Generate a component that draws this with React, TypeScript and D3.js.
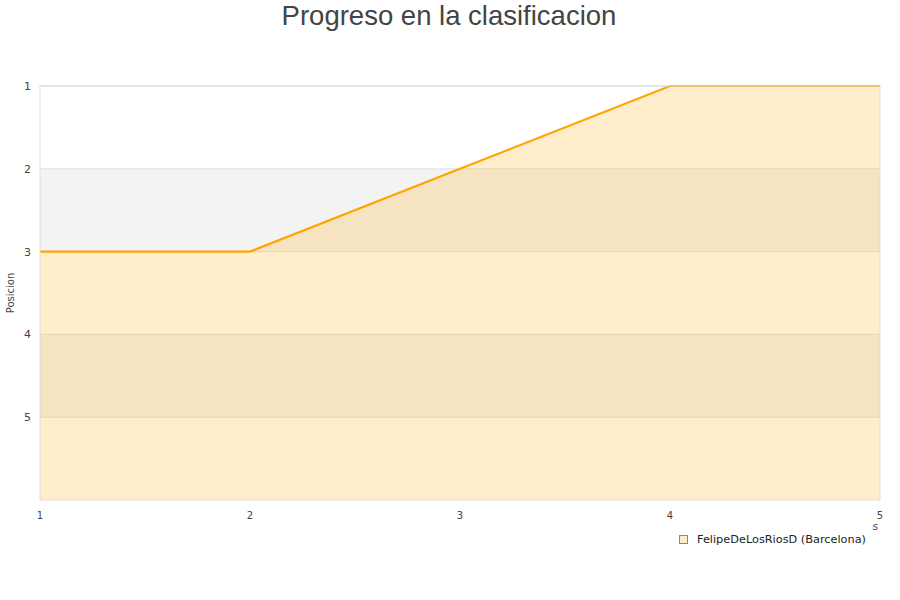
import * as d3 from 'd3'

const jornadas = [1, 2, 3, 4, 5]
const posiciones = [3, 3, 2, 1, 1]
const yTicks = [1, 2, 3, 4, 5]
const serieNombre = 'FelipeDeLosRiosD (Barcelona)'

export default function App() {
  const width = 900
  const height = 600
  const margin = { top: 86, right: 20, bottom: 100, left: 40 }
  const innerWidth = width - margin.left - margin.right
  const innerHeight = height - margin.top - margin.bottom

  const x = d3.scaleLinear().domain([1, 5]).range([0, innerWidth])
  const y = d3.scaleLinear().domain([1, 6]).range([0, innerHeight])

  const pts = jornadas.map((j, i) => ({ j, p: posiciones[i] }))
  const line = d3
    .line<{ j: number; p: number }>()
    .x((d) => x(d.j))
    .y((d) => y(d.p))
  const area = d3
    .area<{ j: number; p: number }>()
    .x((d) => x(d.j))
    .y0(innerHeight)
    .y1((d) => y(d.p))

  const font = 'DejaVu Sans, sans-serif'

  return (
    <svg width={width} height={height} style={{ position: 'absolute', left: 0, top: 0, background: '#fff' }}>
      <text x={449} y={25} textAnchor="middle" fontFamily="Liberation Sans, Arial, sans-serif" fontSize={27.5} fill="#444">
        Progreso en la clasificacion
      </text>

      <g transform={`translate(${margin.left},${margin.top})`}>
        {yTicks
          .filter((t) => t % 2 === 0)
          .map((t) => (
            <rect key={t} x={0} y={y(t)} width={innerWidth} height={y(t + 1) - y(t)} fill="#f3f3f3" />
          ))}
        {yTicks.map((t) => (
          <line key={t} x1={0} x2={innerWidth} y1={y(t)} y2={y(t)} stroke="#e0e0e0" strokeWidth={1} />
        ))}

        <path d={area(pts) ?? ''} fill="#ffa500" fillOpacity={0.2} />
        <path d={line(pts) ?? ''} fill="none" stroke="#ffa500" strokeWidth={2.2} />

        <rect x={0} y={0} width={innerWidth} height={innerHeight} fill="none" stroke="#dcdcdc" strokeWidth={1} />

        {yTicks.map((t) => (
          <text key={t} x={-9} y={y(t) + 4} textAnchor="end" fontFamily={font} fontSize={11} fill="#444">
            {t}
          </text>
        ))}
        {jornadas.map((j) => (
          <text key={j} x={x(j)} y={innerHeight + 19} textAnchor="middle" fontFamily={font} fontSize={10} fill="#444">
            {j}
          </text>
        ))}
        <text
          transform={`translate(${-26},${innerHeight / 2}) rotate(-90)`}
          textAnchor="middle"
          fontFamily={font}
          fontSize={10}
          fill="#444"
        >
          Posicion
        </text>
      </g>

      <text x={878} y={530} textAnchor="end" fontFamily={font} fontSize={10} fill="#444">
        Jornadas
      </text>
      <rect x={674} y={517} width={198} height={33} fill="#fff" />
      <rect x={679.5} y={535.5} width={8} height={8} fill="#feecc9" stroke="#888" strokeWidth={1} />
      <text x={697} y={543} fontFamily={font} fontSize={11.3} fill="#222">
        {serieNombre}
      </text>
    </svg>
  )
}
